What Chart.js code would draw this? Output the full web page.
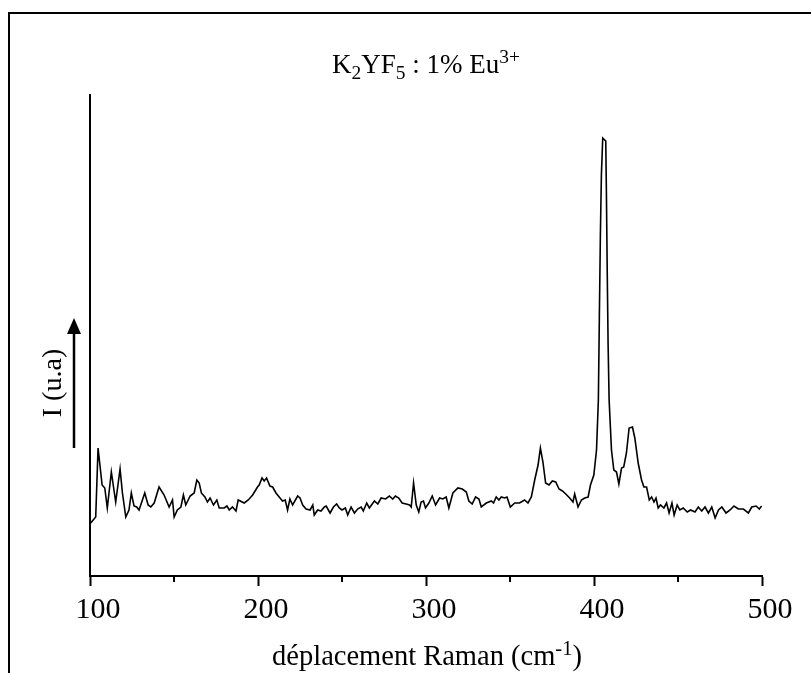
<!DOCTYPE html>
<html>
<head>
<meta charset="utf-8">
<script src="https://cdn.jsdelivr.net/npm/chart.js@4.4.1/dist/chart.umd.min.js"></script>
<style>
  html, body { margin: 0; padding: 0; background: #fff; }
  #wrap { width: 811px; height: 673px; }
</style>
</head>
<body>
<div id="wrap"><canvas id="c" width="811" height="673"></canvas></div>
<script>
// Raman shift (cm-1)
const wavenumbers = [
100.4,103.4,104.8,107.2,108.8,110.3,112.7,115.3,117.9,119.3,121.3,123.2,124.6,126.2,127.8,129.2,130.6,132.6,134.6,136.2,138.2,141.1,144.1,147.1,149.1,150.1,152.0,154.1,155.6,157.0,159.6,162.0,163.6,165.0,166.3,168.4,169.9,171.5,173.5,175.5,176.9,179.9,181.5,182.9,184.8,186.9,188.2,191.8,194.2,196.8,199.7,
200.7,202.4,203.7,205.1,207.1,208.7,210.7,213.1,214.6,216.2,217.6,219.0,220.6,223.6,225.0,226.6,228.6,231.0,232.6,233.5,235.5,237.5,239.5,240.6,242.9,244.9,246.8,248.4,250.0,252.0,253.4,255.4,257.4,259.3,261.4,262.7,264.7,266.3,269.3,271.3,273.3,275.9,278.2,280.2,281.8,283.8,285.8,288.2,290.2,291.2,292.6,294.2,295.7,297.1,298.5,299.7,
301.7,303.7,305.7,308.1,310.0,312.0,313.6,316.0,319.0,321.6,324.0,325.5,327.5,329.5,331.5,332.9,335.9,338.9,340.2,341.8,343.4,344.8,346.8,348.2,350.2,352.8,355.7,358.7,360.7,362.7,364.7,366.7,368.1,369.6,371.2,373.2,375.2,377.2,379.2,381.2,383.2,385.5,387.5,388.5,390.5,392.5,394.5,396.5,397.9,399.9,
401.5,402.6,403.2,403.8,404.4,405.2,407.0,407.4,407.9,408.4,409.0,410.4,411.8,413.4,414.8,416.4,417.7,419.3,420.9,422.9,424.3,426.3,428.3,429.7,431.3,432.9,434.3,435.7,436.9,438.2,439.6,441.6,443.2,444.7,446.4,447.7,449.5,451.1,453.1,455.5,457.5,460.1,462.1,464.1,466.1,468.1,470.1,472.1,474.1,476.1,478.6,481.0,483.3,485.9,488.9,491.9,493.9,496.5,498.4,499.8
];
// Intensity (arbitrary units)
const intensities = [
52,58,127,90,87,67,103,73,106,82,58,65,82,69,68,65,72,82,70,68,72,88,80,68,75,58,65,68,80,70,79,82,95,92,82,78,73,77,70,75,67,67,69,65,68,64,75,72,75,80,88,
90,97,94,97,89,88,82,77,74,75,65,76,70,79,77,70,66,65,70,60,65,64,68,69,62,68,71,67,65,67,60,68,62,66,68,64,72,67,74,71,77,76,79,76,79,77,72,71,70,68,92,70,63,73,74,67,
72,79,70,77,76,78,67,82,87,86,83,74,71,78,76,68,72,74,72,78,75,78,77,78,68,72,72,75,72,78,95,110,127,113,92,90,94,93,86,84,81,77,73,81,68,75,77,78,90,100,
125,175,260,340,400,437,434,380,300,230,175,125,105,103,91,107,108,122,147,148,137,112,95,88,88,75,78,73,77,67,70,67,72,62,72,60,70,65,67,63,65,63,68,64,68,62,68,57,65,68,62,65,69,66,66,62,68,69,66,69
];
const xMin = 100, xMax = 500, xStep = 50;
const xTickLabels = ['100', '200', '300', '400', '500'];
const yMin = -1, yMax = 480;

const titleParts = [['K',0],['2',-1],['YF',0],['5',-1],[' : 1% Eu',0],['3+',1]];
const xTitleParts = [['déplacement Raman (cm',0],['-1',1],[')',0]];
const yTitle = 'I (u.a)';

const SERIF = '"Liberation Serif", "Times New Roman", serif';

function drawRich(ctx, parts, cx, baseline, size) {
  const small = size * 0.72;
  let total = 0;
  const widths = parts.map(([t, m]) => {
    ctx.font = (m ? small : size) + 'px ' + SERIF;
    const w = ctx.measureText(t).width;
    total += w;
    return w;
  });
  let x = cx - total / 2;
  ctx.textAlign = 'left';
  ctx.textBaseline = 'alphabetic';
  parts.forEach(([t, m], i) => {
    ctx.font = (m ? small : size) + 'px ' + SERIF;
    const dy = m === -1 ? size * 0.22 : (m === 1 ? -size * 0.36 : 0);
    ctx.fillText(t, x, baseline + dy);
    x += widths[i];
  });
}

const decor = {
  id: 'decor',
  afterDraw(chart) {
    const ctx = chart.ctx;
    const xs = chart.scales.x;
    const area = chart.chartArea;
    ctx.save();
    ctx.fillStyle = '#000';
    ctx.strokeStyle = '#000';
    // frame (top and left)
    ctx.lineWidth = 2;
    ctx.beginPath();
    ctx.moveTo(811, 13);
    ctx.lineTo(9, 13);
    ctx.lineTo(9, 673);
    ctx.stroke();
    // minor ticks
    ctx.lineWidth = 2;
    for (let v = xMin + xStep; v < xMax; v += 100) {
      const px = Math.round(xs.getPixelForValue(v));
      ctx.beginPath();
      ctx.moveTo(px, area.bottom);
      ctx.lineTo(px, area.bottom + 6);
      ctx.stroke();
    }
    // title
    drawRich(ctx, titleParts, 426, 73, 27);
    // x axis title
    drawRich(ctx, xTitleParts, 427, 665, 28.5);
    // y label
    ctx.save();
    ctx.translate(61, 383);
    ctx.rotate(-Math.PI / 2);
    ctx.font = '28px ' + SERIF;
    ctx.textAlign = 'center';
    ctx.textBaseline = 'alphabetic';
    ctx.fillText(yTitle, 0, 0);
    ctx.restore();
    // arrow
    ctx.lineWidth = 2.5;
    ctx.beginPath();
    ctx.moveTo(74, 448);
    ctx.lineTo(74, 330);
    ctx.stroke();
    ctx.beginPath();
    ctx.moveTo(74, 318);
    ctx.lineTo(67, 334);
    ctx.lineTo(81, 334);
    ctx.closePath();
    ctx.fill();
    ctx.restore();
  }
};

new Chart(document.getElementById('c'), {
  type: 'line',
  data: {
    datasets: [{
      data: wavenumbers.map((x, i) => ({ x, y: intensities[i] })),
      borderColor: '#000',
      borderWidth: 1.6,
      pointRadius: 0,
      tension: 0,
      fill: false
    }]
  },
  options: {
    responsive: false,
    animation: false,
    events: [],
    layout: { padding: { left: 90, right: 49, top: 95, bottom: 37 } },
    plugins: { legend: { display: false }, title: { display: false }, tooltip: { enabled: false } },
    scales: {
      x: {
        type: 'linear',
        min: xMin, max: xMax,
        afterFit: s => { s.height = 60; },
        afterBuildTicks: s => { s.ticks = xTickLabels.map(t => ({ value: Number(t) })); },
        ticks: {
          color: '#000',
          font: { family: SERIF, size: 30 },
          padding: 6,
          labelOffset: 8,
          maxRotation: 0,
          autoSkip: false,
          callback: v => String(v)
        },
        grid: { drawOnChartArea: false, drawTicks: true, tickLength: 10, tickWidth: 2, tickColor: '#000' },
        border: { display: true, color: '#000', width: 2 }
      },
      y: {
        type: 'linear',
        min: yMin, max: yMax,
        afterFit: s => { s.width = 0; },
        ticks: { display: false },
        grid: { display: false, drawTicks: false },
        border: { display: true, color: '#000', width: 2 }
      }
    }
  },
  plugins: [decor]
});
</script>
</body>
</html>
